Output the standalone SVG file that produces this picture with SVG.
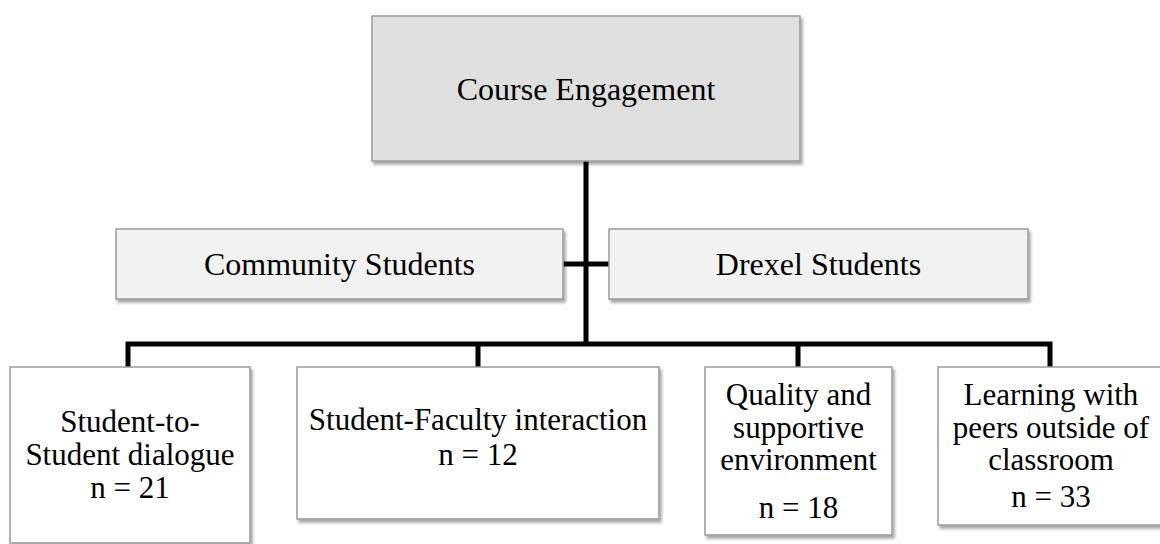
<svg xmlns="http://www.w3.org/2000/svg" width="1160" height="544" viewBox="0 0 1160 544">
  <defs>
    <filter id="shadow" x="-5%" y="-5%" width="115%" height="120%">
      <feDropShadow dx="2" dy="3" stdDeviation="1.6" flood-color="#000" flood-opacity="0.35"/>
    </filter>
    <style>
      .box { stroke: #9a9a9a; stroke-width: 1.5; filter: url(#shadow); }
      .root { fill: #dfdfdf; }
      .group { fill: #f2f2f2; }
      .leaf { fill: #ffffff; }
      .lbl { font-family: "Liberation Serif", "Times New Roman", serif; font-size: 32px; fill: #000; text-anchor: middle; }
      .sm { font-size: 31px; }
      .wire { stroke: #000; stroke-width: 5; fill: none; stroke-linecap: butt; }
    </style>
  </defs>
  <rect width="1160" height="544" fill="#ffffff"/>

  <!-- connectors -->
  <g id="connectors">
    <line class="wire" x1="586" y1="161" x2="586" y2="346"/>
    <line class="wire" x1="563" y1="264" x2="609" y2="264"/>
    <polyline class="wire" points="128,367 128,344 1050,344 1050,367"/>
    <line class="wire" x1="478" y1="344" x2="478" y2="367"/>
    <line class="wire" x1="798" y1="344" x2="798" y2="367"/>
  </g>

  <g id="course-engagement">
    <rect class="box root" x="372" y="16" width="428" height="145"/>
    <text class="lbl" x="586" y="100">Course Engagement</text>
  </g>

  <g id="community-students">
    <rect class="box group" x="116" y="229" width="447" height="70"/>
    <text class="lbl" x="339.5" y="275">Community Students</text>
  </g>

  <g id="drexel-students">
    <rect class="box group" x="609" y="229" width="419" height="70"/>
    <text class="lbl" x="818.5" y="275">Drexel Students</text>
  </g>

  <g id="student-to-student">
    <rect class="box leaf" x="10" y="367" width="240" height="176"/>
    <text class="lbl sm" x="130" y="432">Student-to-</text>
    <text class="lbl sm" x="130" y="465">Student dialogue</text>
    <text class="lbl sm" x="130" y="498">n = 21</text>
  </g>

  <g id="student-faculty">
    <rect class="box leaf" x="297" y="367" width="362" height="152"/>
    <text class="lbl sm" x="478" y="430">Student-Faculty interaction</text>
    <text class="lbl sm" x="478" y="465">n = 12</text>
  </g>

  <g id="supportive-environment">
    <rect class="box leaf" x="705" y="367" width="187" height="168"/>
    <text class="lbl sm" x="798.5" y="405">Quality and</text>
    <text class="lbl sm" x="798.5" y="438">supportive</text>
    <text class="lbl sm" x="798.5" y="470">environment</text>
    <text class="lbl sm" x="798.5" y="518">n = 18</text>
  </g>

  <g id="peers-outside-classroom">
    <rect class="box leaf" x="938" y="367" width="228" height="158"/>
    <text class="lbl sm" x="1051" y="405">Learning with</text>
    <text class="lbl sm" x="1051" y="438">peers outside of</text>
    <text class="lbl sm" x="1051" y="470">classroom</text>
    <text class="lbl sm" x="1051" y="507">n = 33</text>
  </g>
</svg>
